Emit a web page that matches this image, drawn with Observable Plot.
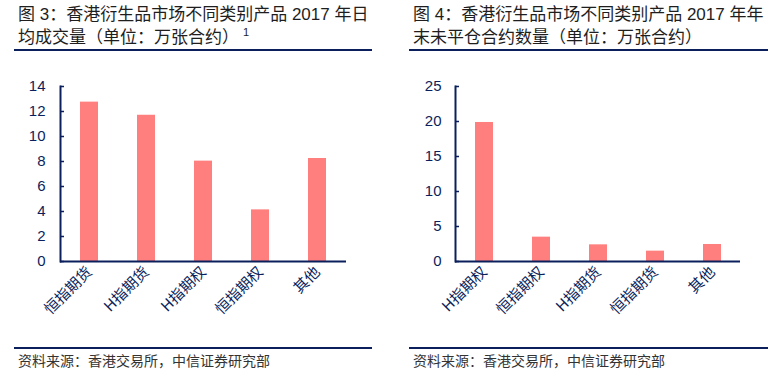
<!DOCTYPE html>
<html><head><meta charset="utf-8">
<script src="https://cdn.jsdelivr.net/npm/d3@7"></script>
<script src="https://cdn.jsdelivr.net/npm/@observablehq/plot@0.6"></script>
<style>
body{margin:0;background:#fff;width:772px;height:378px;overflow:hidden;position:relative;font-family:"Noto Sans CJK SC","Liberation Sans",sans-serif;}
.panel{position:absolute;top:0;width:386px;height:378px;}
.title{position:absolute;left:18px;top:3px;font-size:17px;line-height:23px;color:#1e1e1e;font-family:"Liberation Sans","Noto Sans CJK SC",sans-serif;white-space:nowrap;}
.title sup{font-size:11px;vertical-align:top;position:relative;top:-5px;margin-left:4px;}
.rule{position:absolute;height:2px;background:#0b1f5c;}
.src{position:absolute;font-size:14px;color:#333;white-space:nowrap;}
.chart{position:absolute;top:60px;}
</style></head><body>
<div class="panel" id="p1" style="left:0">
  <div class="title">图 3：香港衍生品市场不同类别产品 2017 年日<br>均成交量（单位：万张合约）<sup>1</sup></div>
  <div class="rule" style="left:14px;width:358px;top:49px"></div>
  <div class="chart" id="c1" style="left:0"></div>
  <div class="rule" style="left:14px;width:358px;top:347px"></div>
  <div class="src" style="left:18px;top:350px">资料来源：香港交易所，中信证券研究部</div>
</div>
<div class="panel" id="p2" style="left:386px">
  <div class="title" style="left:27px">图 4：香港衍生品市场不同类别产品 2017 年年<br>末未平仓合约数量（单位：万张合约）</div>
  <div class="rule" style="left:23px;width:359px;top:49px"></div>
  <div class="chart" id="c2" style="left:0"></div>
  <div class="rule" style="left:23px;width:359px;top:347px"></div>
  <div class="src" style="left:27px;top:350px">资料来源：香港交易所，中信证券研究部</div>
</div>
<script>
const cats1 = ["恒指期货", "H指期货", "H指期权", "恒指期权", "其他"];
const vals1 = [12.75, 11.7, 8.03, 4.13, 8.24];
const ticks1 = [0, 2, 4, 6, 8, 10, 12, 14];

const cats2 = ["H指期权", "恒指期权", "H指期货", "恒指期货", "其他"];
const vals2 = [19.86, 3.48, 2.38, 1.48, 2.43];
const ticks2 = [0, 5, 10, 15, 20, 25];

const navy = "#0b1f5c";
const barColor = "#ff7f7f";

function draw(cats, vals, ticks, ymax, ml, mr, tp) {
  const data = cats.map((c, i) => ({cat: c, v: vals[i]}));
  return Plot.plot({
    width: 386, height: 290,
    marginTop: 26, marginBottom: 89, marginLeft: ml, marginRight: mr,
    style: {fontFamily: "'Liberation Sans','Noto Sans CJK SC',sans-serif", fontSize: "15px", color: navy, background: "transparent"},
    x: {domain: cats, paddingInner: 0.685, paddingOuter: 0.3425, label: null},
    y: {domain: [0, ymax], label: null},
    marks: [
      Plot.barY(data, {x: "cat", y: "v", fill: barColor}),
      Plot.axisY({ticks: ticks, tickSize: -4, tickPadding: tp, stroke: navy, strokeWidth: 1.5, fill: navy, fontSize: 15, label: null}),
      Plot.axisX({tickSize: 0, tickRotate: -45, tickPadding: 8, fill: navy, fontSize: 15, label: null, fontFamily: "'Noto Sans CJK SC',sans-serif"}),
      Plot.frame({anchor: "left", stroke: navy, strokeWidth: 2}),
      Plot.ruleY([0], {stroke: navy, strokeWidth: 2})
    ]
  });
}
document.getElementById("c1").append(draw(cats1, vals1, ticks1, 14, 60, 40, 19));
document.getElementById("c2").append(draw(cats2, vals2, ticks2, 25, 69, 32, 18));
</script>
</body></html>
